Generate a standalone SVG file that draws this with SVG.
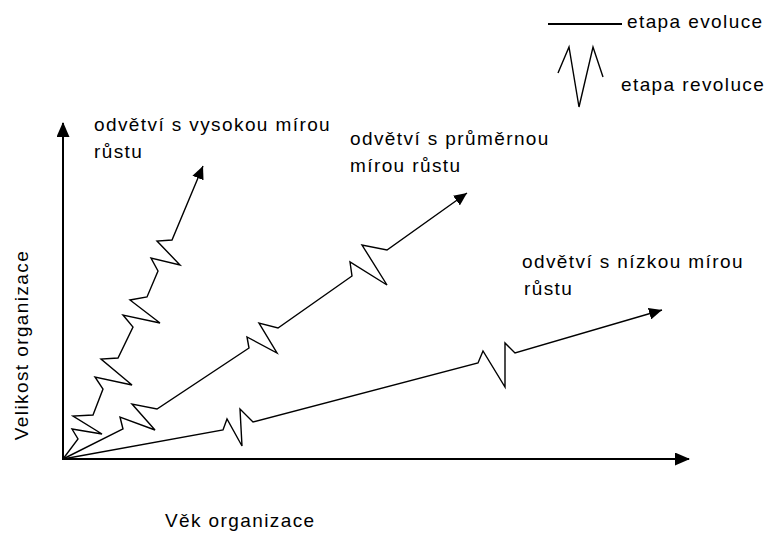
<svg xmlns="http://www.w3.org/2000/svg" width="774" height="534" viewBox="0 0 774 534">
<style>
text{font-family:"Liberation Sans",Arial,sans-serif;font-size:19px;fill:#000;letter-spacing:1.4px}
.axis{stroke:#000;stroke-width:2;fill:none}
.curve{stroke:#000;stroke-width:1.4;fill:none;stroke-linejoin:miter}
</style>
<defs>
<marker id="ah" markerUnits="userSpaceOnUse" markerWidth="16" markerHeight="14" refX="14" refY="6.5" orient="auto" viewBox="0 0 16 14">
<path d="M0,0 L15,6.5 L0,13 z" fill="#000"/>
</marker>
<marker id="ahs" markerUnits="userSpaceOnUse" markerWidth="14" markerHeight="12" refX="13" refY="6" orient="auto" viewBox="0 0 14 12">
<path d="M0,0 L13,6 L0,12 z" fill="#000"/>
</marker>
</defs>
<g id="axes">
<line class="axis" x1="63" y1="460" x2="63" y2="123" marker-end="url(#ah)"/>
<line class="axis" x1="62" y1="459" x2="689" y2="459" marker-end="url(#ah)"/>
</g>
<g id="connectors">
<polyline id="high" class="curve" marker-end="url(#ahs)" points="63,459 78,439 72,429 102,434 73,416 93,415 103,389 95,377 132,385 101,359 118,358 133,327 123,315 160,323 130,300 147,297 158,271 151,258 180,265 157,241 172,240 203,166"/>
<polyline id="medium" class="curve" marker-end="url(#ahs)" points="63,459 123,429 120,417 155,430 132,404 157,409 249,348 247,337 277,353 259,323 278,328 352,276 350,262 387,285 362,245 387,250 467,193"/>
<polyline id="low" class="curve" marker-end="url(#ahs)" points="63,459 223,430 227,419 242,446 240,409 253,422 478,363 483,351 505,387 505,343 515,353 662,310"/>
</g>
<g id="label-high">
<text x="94" y="131">odvětví s vysokou mírou</text>
<text x="94" y="158">růstu</text>
</g>
<g id="label-medium">
<text x="350" y="145">odvětví s průměrnou</text>
<text x="350" y="172">mírou růstu</text>
</g>
<g id="label-low">
<text x="522" y="268">odvětví s nízkou mírou</text>
<text x="524" y="295">růstu</text>
</g>
<g id="axis-labels">
<text x="165" y="527">Věk organizace</text>
<text transform="translate(28,345) rotate(-90)" text-anchor="middle">Velikost organizace</text>
</g>
<g id="legend">
<line x1="548" y1="24" x2="622" y2="24" stroke="#000" stroke-width="2"/>
<text x="627" y="28">etapa evoluce</text>
<polyline class="curve" points="558,73 569,47 579,107 593,47 603,77"/>
<text x="621" y="91">etapa revoluce</text>
</g>
</svg>
